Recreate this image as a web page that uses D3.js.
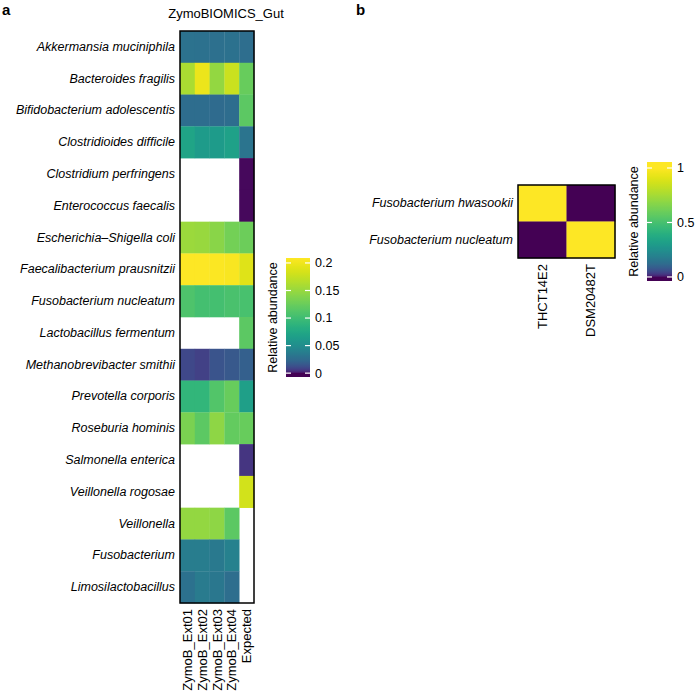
<!DOCTYPE html>
<html>
<head>
<meta charset="utf-8">
<script src="https://cdn.jsdelivr.net/npm/d3@7"></script>
<style>
  body { margin: 0; background: #fff; }
  text { font-family: "Liberation Sans", Arial, Helvetica, sans-serif; fill: #000; }
</style>
</head>
<body>
<div id="chart"></div>
<script>
// Panel a data
var speciesA = ["Akkermansia muciniphila", "Bacteroides fragilis", "Bifidobacterium adolescentis",
  "Clostridioides difficile", "Clostridium perfringens", "Enterococcus faecalis",
  "Escherichia\u2013Shigella coli", "Faecalibacterium prausnitzii", "Fusobacterium nucleatum",
  "Lactobacillus fermentum", "Methanobrevibacter smithii", "Prevotella corporis",
  "Roseburia hominis", "Salmonella enterica", "Veillonella rogosae ", "Veillonella",
  "Fusobacterium", "Limosilactobacillus"];
var samplesA = ["ZymoB_Ext01", "ZymoB_Ext02", "ZymoB_Ext03", "ZymoB_Ext04", "Expected"];
var ext01 = [0.030, 0.160, 0.026, 0.072, null, null, 0.152, 0.210, 0.109, null, 0.010, 0.091, 0.134, null, null, 0.148, 0.037, 0.029];
var ext02 = [0.029, 0.198, 0.026, 0.062, null, null, 0.150, 0.210, 0.103, null, 0.008, 0.091, 0.118, null, null, 0.148, 0.037, 0.036];
var ext03 = [0.028, 0.148, 0.025, 0.062, null, null, 0.142, 0.208, 0.103, null, 0.014, 0.112, 0.145, null, null, 0.145, 0.034, 0.033];
var ext04 = [0.029, 0.178, 0.026, 0.068, null, null, 0.130, 0.206, 0.107, null, 0.016, 0.124, 0.121, null, null, 0.118, 0.040, 0.027];
var expected = [0.027, 0.124, 0.118, 0.031, 0.0001, 0.0001, 0.126, 0.190, 0.106, 0.118, 0.019, 0.066, 0.124, 0.005, 0.182, null, null, null];
var legendTicksA = [0, 0.05, 0.1, 0.15, 0.2];

// Panel b data
var speciesB = ["Fusobacterium hwasookii", "Fusobacterium nucleatum"];
var strainsB = ["THCT14E2", "DSM20482T"];
var thct14e2 = [1, 0];
var dsm20482t = [0, 1];
var legendTicksB = [0, 0.5, 1];

var svgWidth = 697;
var svgHeight = 691;
var fontSize = "12.5px";

var svg = d3.select("#chart")
  .append("svg")
  .attr("width", svgWidth)
  .attr("height", svgHeight);

// colour: square-root mapped viridis
function makeColor(maxVal) {
  var s = d3.scaleSqrt().domain([0, maxVal]).range([0, 1]).clamp(true);
  return function(v) { return d3.interpolateViridis(s(Math.max(v, 0))); };
}

function drawLegend(g, color, domain, ticks, y0, y1, x, w, id) {
  var y = d3.scaleLinear().domain(domain).range([y1, y0]);
  var grad = svg.append("defs").append("linearGradient")
    .attr("id", id).attr("x1", 0).attr("x2", 0).attr("y1", 1).attr("y2", 0);
  d3.range(0, 101).forEach(function(i) {
    var v = domain[0] + (domain[1] - domain[0]) * i / 100;
    grad.append("stop").attr("offset", i + "%").attr("stop-color", color(v));
  });
  g.append("rect")
    .attr("x", x).attr("y", y0).attr("width", w).attr("height", y1 - y0)
    .attr("fill", "url(#" + id + ")");
  ticks.forEach(function(t) {
    g.append("line").attr("x1", x).attr("x2", x + 5).attr("y1", y(t)).attr("y2", y(t))
      .attr("stroke", "#fff").attr("stroke-width", 1.2);
    g.append("line").attr("x1", x + w - 5).attr("x2", x + w).attr("y1", y(t)).attr("y2", y(t))
      .attr("stroke", "#fff").attr("stroke-width", 1.2);
    g.append("text").attr("x", x + w + 5).attr("y", y(t)).attr("dy", "0.35em")
      .style("font-size", fontSize).text(t);
  });
  g.append("text")
    .attr("transform", "translate(" + (x - 9) + "," + ((y0 + y1) / 2) + ") rotate(-90)")
    .style("text-anchor", "middle")
    .style("font-size", fontSize)
    .text("Relative abundance");
}

// ---------- panel a ----------
var colsA = [ext01, ext02, ext03, ext04, expected];
var cellsA = [];
speciesA.forEach(function(sp, i) {
  samplesA.forEach(function(sm, j) {
    cellsA.push({ sp: sp, sm: sm, v: colsA[j][i] });
  });
});

var colorA = makeColor(0.21);
var xA = d3.scaleBand().domain(samplesA).range([180, 254]);
var yA = d3.scaleBand().domain(speciesA).range([31, 603]);

var gA = svg.append("g");
gA.selectAll("rect.cell")
  .data(cellsA.filter(function(d) { return d.v !== null; }))
  .enter()
  .append("rect")
  .attr("class", "cell")
  .attr("x", function(d) { return xA(d.sm); })
  .attr("y", function(d) { return yA(d.sp); })
  .attr("width", xA.bandwidth() + 0.3)
  .attr("height", yA.bandwidth() + 0.3)
  .attr("fill", function(d) { return colorA(d.v); });

gA.append("rect")
  .attr("x", 180).attr("y", 31).attr("width", 74).attr("height", 572)
  .attr("fill", "none").attr("stroke", "#000").attr("stroke-width", 1.5);

gA.append("g")
  .attr("transform", "translate(180,0)")
  .call(d3.axisLeft(yA).tickSize(0).tickPadding(5))
  .call(function(g) { g.select(".domain").remove(); })
  .selectAll("text")
  .style("font-size", fontSize)
  .style("font-style", "italic")
  .style("font-family", "Liberation Sans, Arial, sans-serif");

gA.append("g")
  .attr("transform", "translate(0,603)")
  .call(d3.axisBottom(xA).tickSize(0).tickPadding(0))
  .call(function(g) { g.select(".domain").remove(); })
  .selectAll("text")
  .attr("transform", "rotate(-90)")
  .attr("x", -6).attr("y", 0).attr("dy", "0.35em")
  .style("text-anchor", "end")
  .style("font-size", "13px")
  .style("font-family", "Liberation Sans, Arial, sans-serif");

svg.append("text").attr("x", 226).attr("y", 18)
  .style("text-anchor", "middle").style("font-size", "13px")
  .text("ZymoBIOMICS_Gut");

svg.append("text").attr("x", 2).attr("y", 15)
  .style("font-weight", "bold").style("font-size", "15px").text("a");

drawLegend(svg.append("g"), colorA, [-0.007, 0.209], legendTicksA, 258, 377, 286, 24, "gradA");

// ---------- panel b ----------
var colsB = [thct14e2, dsm20482t];
var cellsB = [];
speciesB.forEach(function(sp, i) {
  strainsB.forEach(function(st, j) {
    cellsB.push({ sp: sp, st: st, v: colsB[j][i] });
  });
});

var colorB = makeColor(1);
var xB = d3.scaleBand().domain(strainsB).range([518, 615]);
var yB = d3.scaleBand().domain(speciesB).range([185, 258]);

var gB = svg.append("g");
gB.selectAll("rect.cell")
  .data(cellsB)
  .enter()
  .append("rect")
  .attr("class", "cell")
  .attr("x", function(d) { return xB(d.st); })
  .attr("y", function(d) { return yB(d.sp); })
  .attr("width", xB.bandwidth() + 0.3)
  .attr("height", yB.bandwidth() + 0.3)
  .attr("fill", function(d) { return colorB(d.v); });

gB.append("rect")
  .attr("x", 518).attr("y", 185).attr("width", 97).attr("height", 73)
  .attr("fill", "none").attr("stroke", "#000").attr("stroke-width", 1.5);

gB.append("g")
  .attr("transform", "translate(518,0)")
  .call(d3.axisLeft(yB).tickSize(0).tickPadding(5))
  .call(function(g) { g.select(".domain").remove(); })
  .selectAll("text")
  .style("font-size", fontSize)
  .style("font-style", "italic")
  .style("font-family", "Liberation Sans, Arial, sans-serif");

gB.append("g")
  .attr("transform", "translate(0,258)")
  .call(d3.axisBottom(xB).tickSize(0).tickPadding(0))
  .call(function(g) { g.select(".domain").remove(); })
  .selectAll("text")
  .attr("transform", "rotate(-90)")
  .attr("x", -6).attr("y", 0).attr("dy", "0.35em")
  .style("text-anchor", "end")
  .style("font-size", "13px")
  .style("font-family", "Liberation Sans, Arial, sans-serif");

svg.append("text").attr("x", 356).attr("y", 15)
  .style("font-weight", "bold").style("font-size", "15px").text("b");

drawLegend(svg.append("g"), colorB, [-0.037, 1.055], legendTicksB, 162, 281, 647, 25, "gradB");
</script>
</body>
</html>
